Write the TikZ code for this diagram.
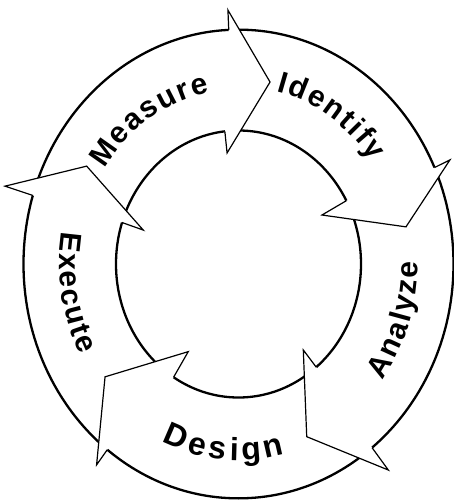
\documentclass[tikz,border=0pt]{standalone}
\usepackage{fontspec}
\setmainfont{Liberation Sans}
\newcommand\lblfont{\fontsize{30pt}{33pt}\selectfont\bfseries}
\newcommand\dsgfont{\fontsize{32pt}{35pt}\selectfont\bfseries}
% #1 font, #2 mid angle, #3 baseline radius, #4 direction (+1 ccw / -1 cw), #5 letter spacing, #6 letters
\newcommand\curvetext[6]{%
 \begingroup#1%
 \xdef\ctotal{0}%
 \foreach \ch in {#6}{\pgfmathsetmacro\cw{width("\ch")}\pgfmathsetmacro\ct{\ctotal+\cw+#5}\xdef\ctotal{\ct}}%
 \pgfmathsetmacro\ct{\ctotal-#5}%
 \pgfmathsetmacro\ck{#3*sqrt(sin(#2)^2+1.1881*cos(#2)^2)}%
 \pgfmathsetmacro\cs{#2-(#4)*(\ct/2)/\ck*180/pi}\xdef\cang{\cs}%
 \foreach \ch in {#6}{%
   \pgfmathsetmacro\cw{width("\ch")}%
   \pgfmathsetmacro\ck{#3*sqrt(sin(\cang)^2+1.1881*cos(\cang)^2)}%
   \pgfmathsetmacro\cc{\cang+(#4)*(\cw/2)/\ck*180/pi}%
   \pgfmathsetmacro\cr{atan2((#4)*1.09*cos(\cc),(-1)*(#4)*sin(\cc))}%
   \node[font=#1,rotate=\cr,anchor=base,inner sep=0pt] at (\cc:#3) {\ch};%
   \pgfmathsetmacro\cn{\cang+(#4)*(\cw+#5)/\ck*180/pi}\xdef\cang{\cn}%
 }%
 \endgroup}
% #1 name, #2 outer barb angle, #3 outer barb radius, #4 tip angle, #5 tip radius, #6 inner barb angle, #7 inner barb radius
\newcommand\headarrow[7]{%
 \coordinate (#1-bo) at (#2:#3);
 \coordinate (#1-co) at (#2:215);
 \coordinate (#1-t) at (#4:#5);
 \coordinate (#1-bi) at (#6:#7);
 \coordinate (#1-ci) at (#6:122.5);
 \fill[white] (#1-co) -- (#1-bo) -- (#1-t) -- (#1-bi) -- (#1-ci) -- cycle;
 \draw[headline] (#1-co) -- (#1-bo) -- (#1-t) -- (#1-bi) -- (#1-ci);
}
\begin{document}
\begin{tikzpicture}[x=1pt,y=1.09pt,
  ring/.style={line width=2.3pt},
  headline/.style={line width=1.2pt, line join=miter}]
\useasboundingbox[fill=white] (-238.5pt,-239pt) rectangle (215.5pt,264pt);
\draw[ring] (0,0) ellipse [x radius=215pt, y radius=234.35pt];
\draw[ring] (0,0) ellipse [x radius=122.5pt, y radius=133.5pt];
\headarrow{h1}{92.6}{233.2}{79.3}{169.9}{96.4}{102.5}
\headarrow{h2}{24.3}{232}{11.5}{170.9}{28.3}{94.8}
\headarrow{h3}{-51.6}{241.2}{-66.7}{172.5}{-50.6}{102.1}
\headarrow{h4}{-127.6}{232.6}{-142.2}{168.9}{-122}{94.8}
\headarrow{h5}{163}{244.2}{149.4}{176.4}{161.9}{100.2}
\curvetext{\lblfont}{123.5}{160}{-1}{2}{M,e,a,s,u,r,e}
\curvetext{\lblfont}{56}{163}{-1}{2}{I,d,e,n,t,i,f,y}
\curvetext{\lblfont}{-18}{179}{1}{2}{A,n,a,l,y,z,e}
\curvetext{\dsgfont}{-95}{180}{1}{4}{D,e,s,i,g,n}
\curvetext{\lblfont}{189}{179}{1}{2}{E,x,e,c,u,t,e}
\end{tikzpicture}
\end{document}
